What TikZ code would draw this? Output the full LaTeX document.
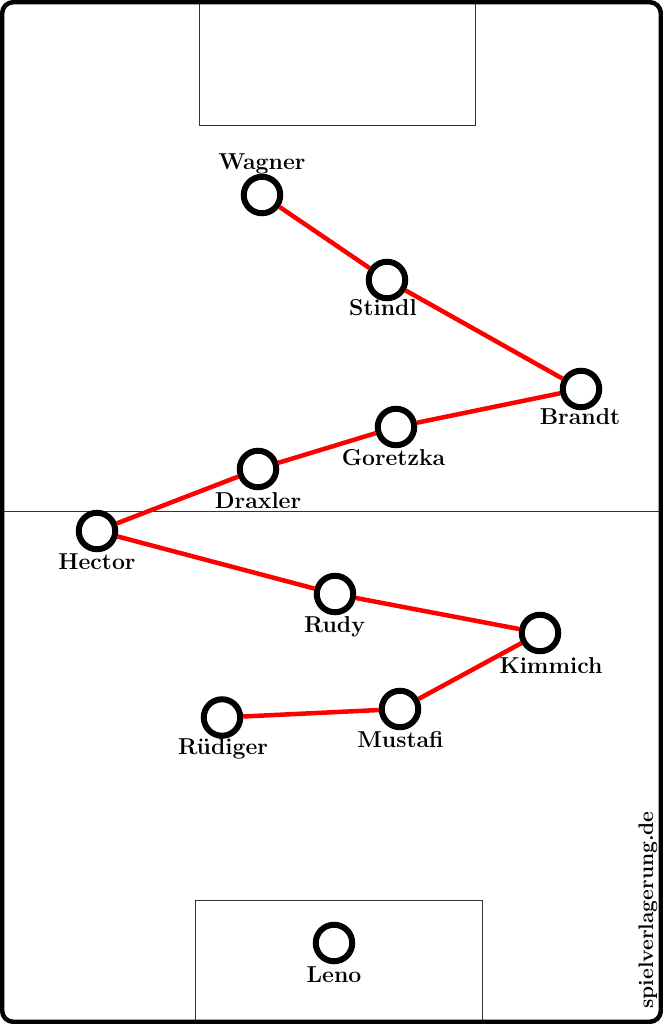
\documentclass[tikz,border=0pt]{standalone}
\usepackage{tikz}
\usetikzlibrary{positioning}
\tikzstyle{player} = [circle, draw, fill=white, line width=6pt,
	minimum size=36.5pt, inner sep=0pt]
\tikzstyle{playername} = [font=\fontsize{23}{26}\selectfont\bfseries, inner sep=0pt]
\tikzstyle{sitename} = [font=\fontsize{21}{24}\selectfont\bfseries, inner sep=0pt, rotate=90]
\tikzstyle{line} = [draw, red, line width=4.5pt]
\tikzstyle{pitch} = [draw, line width=0.9pt, black!80]

\begin{document}
\begin{tikzpicture}[x=1pt, y=-1pt]
	\useasboundingbox (0,0) rectangle (663,1024);

	% Pitch
	\coordinate (midL) at (2,511);
	\coordinate (midR) at (661,511);
	\path [pitch] (199,2) rectangle (475,125.5);
	\path [pitch] (195.5,900.5) rectangle (482,1022);
	\path [pitch] (midL) -- (midR);
	\draw [line width=4.5pt, rounded corners=11pt] (2.2,2.2) rectangle (660.8,1021.8);

	% Place nodes
	\node [player] (wagner) at (262,195) {};
	\node [player] (stindl) at (387,280) {};
	\node [player] (brandt) at (581,389) {};
	\node [player] (goretzka) at (396,427) {};
	\node [player] (draxler) at (258,469) {};
	\node [player] (hector) at (97,531) {};
	\node [player] (rudy) at (335,594) {};
	\node [player] (kimmich) at (540,633) {};
	\node [player] (mustafi) at (400,709) {};
	\node [player] (ruediger) at (222,717.5) {};
	\node [player] (leno) at (334,943) {};

	% Place names
	\node [playername] (wagnerName) at (262,164) {Wagner};
	\node [playername] (stindlName) at (383,308) {Stindl};
	\node [playername] (brandtName) at (580,417) {Brandt};
	\node [playername] (goretzkaName) at (393.5,458) {Goretzka};
	\node [playername] (draxlerName) at (258,501) {Draxler};
	\node [playername] (hectorName) at (97,562) {Hector};
	\node [playername] (rudyName) at (334.5,627) {Rudy};
	\node [playername] (kimmichName) at (551,666) {Kimmich};
	\node [playername] (mustafiName) at (400.5,740) {Mustafi};
	\node [playername] (ruedigerName) at (223,749) {Rüdiger};
	\node [playername] (lenoName) at (334,975) {Leno};
	\node [sitename] (site) at (648,910) {spielverlagerung.de};

	% Draw edges
	\path [line] (wagner) -- (stindl);
	\path [line] (stindl) -- (brandt);
	\path [line] (brandt) -- (goretzka);
	\path [line] (goretzka) -- (draxler);
	\path [line] (draxler) -- (hector);
	\path [line] (hector) -- (rudy);
	\path [line] (rudy) -- (kimmich);
	\path [line] (kimmich) -- (mustafi);
	\path [line] (mustafi) -- (ruediger);
\end{tikzpicture}
\end{document}
